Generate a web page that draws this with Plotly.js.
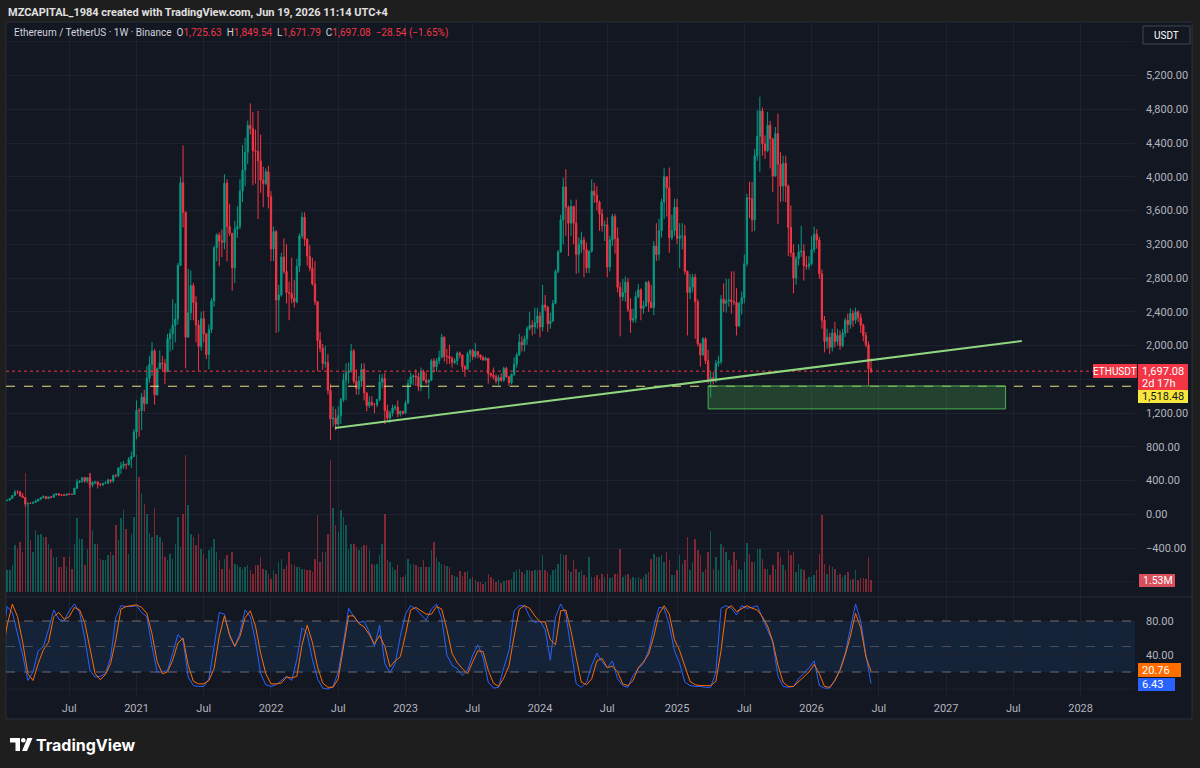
<!DOCTYPE html>
<html><head><meta charset="utf-8">
<script src="https://cdn.plot.ly/plotly-3.0.1.min.js"></script>
<style>html,body{margin:0;padding:0;background:#1e1e1e;}#chart{width:1200px;height:768px;}</style>
</head><body><div id="chart"></div>
<script>
// ---------------- DATA (weekly ETH/USDT, first week starts 2020-01-06) ----------------
const weekStart = '2020-01-06';
const firstOpen = 144;
const closes = [
146,167,168,189,223,266,265,218,200,123,132,131,143,158,182,197,211,187,207,204,231,245,233,228,227,241,239,236,311,385,394,433,395,436,350,381,385,357,353,368,368,409,396,463,461,550,575,596,590,655,685,975,
1232,1230,1390,1314,1614,1780,1935,1417,1727,1793,1786,1690,2082,2140,2240,2315,2950,3930,3580,2100,2390,2710,2510,2245,1990,2320,2140,1895,2190,2530,3160,3310,3240,3225,3925,3410,3330,2920,3380,3410,3830,4080,4290,4610,4570,4310,4300,4190,3960,3920,4060,3765,
3145,3350,2540,2600,3050,2880,2630,2620,2560,2520,2940,3300,3520,3260,3060,2920,2730,2520,2060,1970,1790,1800,1470,1130,1140,1070,1170,1360,1590,1680,1700,1935,1575,1490,1580,1720,1440,1290,1330,1300,1300,1360,1570,1610,1230,1140,1200,1260,1270,1190,1220,1200,
1320,1550,1630,1640,1630,1515,1690,1590,1565,1590,1820,1750,1820,1860,2100,1870,1870,1850,1800,1820,1910,1890,1750,1720,1900,1940,1870,1930,1890,1860,1830,1850,1670,1650,1630,1580,1620,1590,1730,1630,1560,1660,1780,1890,2040,2010,2080,2200,2240,2220,2270,2350,
2220,2480,2455,2260,2290,2500,2880,3110,3490,3880,3640,3450,3650,3450,3080,3200,3250,3140,2920,3120,3830,3780,3700,3560,3420,3430,2930,3250,3530,3270,2690,2580,2630,2750,2430,2300,2320,2580,2660,2440,2470,2750,2510,2450,3180,3080,3360,3700,4000,3870,3280,3360,3640,
3270,3300,3300,2880,2630,2690,2810,2520,2020,1890,2080,1820,1580,1620,1580,1790,1810,2550,2500,2530,2540,2520,2510,2230,2500,2570,2970,3750,3740,3490,4250,4480,4780,4390,4310,4610,4450,4010,4510,4150,3890,4160,3890,3400,3100,2800,3030,3110,3120,2950,2940,2970,
3140,3320,3250,2850,2300,2050,2100,1980,2150,2050,2120,2000,2150,2300,2250,2380,2300,2400,2330,2240,2120,2010,1725.63,1697.08];
const highs = [
150,180,172,190,225,288,287,280,252,202,138,145,149,176,182,200,227,215,212,216,246,253,250,240,246,243,251,244,313,418,400,445,445,440,488,387,396,390,370,374,393,422,417,470,477,560,622,635,600,679,745,1010,
1350,1260,1440,1476,1760,1880,2040,1960,1740,1945,1875,1840,2140,2200,2550,2500,2980,4000,4372,3590,2910,2890,2740,2590,2300,2400,2410,2140,2250,2560,3180,3330,3340,3375,4030,3970,3680,3330,3480,3650,3970,4375,4460,4665,4870,4770,4560,4780,4500,4120,4100,4130,
3830,3410,3370,2720,3100,3270,3200,2760,3040,2780,3030,3330,3580,3580,3270,3190,3040,3000,2520,2160,2020,2000,1900,1550,1280,1250,1280,1380,1670,1790,1800,2020,1960,1720,1640,1790,1790,1440,1400,1400,1320,1370,1660,1660,1680,1300,1230,1300,1300,1350,1230,1230,
1350,1600,1680,1660,1720,1680,1740,1715,1680,1600,1840,1850,1850,1940,2140,2110,1960,2010,1870,1850,1930,1930,1890,1770,1930,1960,1960,2030,1930,1890,1880,1870,1850,1680,1740,1660,1650,1670,1750,1750,1640,1670,1860,1915,2140,2110,2120,2230,2400,2300,2450,2450,
2400,2720,2600,2470,2390,2540,2900,3130,3550,3990,4090,3660,3730,3650,3730,3280,3350,3290,3220,3120,3970,3930,3890,3720,3620,3480,3520,3300,3560,3560,3400,2750,2790,2820,2800,2560,2440,2640,2730,2680,2530,2760,2770,2720,3240,3450,3500,3740,4100,4000,4110,3550,3740,
3740,3450,3450,3430,2890,2850,2850,2850,2550,2030,2100,2100,1950,1690,1690,1830,1880,2600,2740,2790,2790,2880,2880,2680,2520,2640,3080,3800,3940,3940,4330,4790,4950,4820,4490,4770,4660,4460,4590,4750,4290,4250,4250,3910,3660,3200,3060,3200,3420,3200,3060,3060,
3300,3410,3380,3290,2900,2350,2200,2150,2200,2280,2200,2180,2200,2330,2380,2440,2420,2450,2420,2380,2260,2160,2050,1849.54];
const lows = [
141,142,156,166,183,221,241,211,196,90,107,128,124,143,150,168,191,180,180,191,197,223,220,223,218,222,236,229,235,303,370,373,375,373,308,322,357,306,332,334,360,366,370,375,438,440,480,540,535,577,550,680,
890,920,1000,1220,1300,1560,1640,1300,1410,1725,1700,1545,1690,1930,1950,2040,2250,2940,3400,1730,2170,2300,2300,2040,1700,1940,2040,1840,1720,2150,2460,3000,2940,3050,3140,3000,3300,2650,2740,3275,3380,3700,3890,4150,4500,3900,3920,3500,3810,3640,3900,3625,
3000,3000,2150,2160,2580,2850,2500,2300,2500,2450,2500,2870,3270,3180,2950,2880,2710,2480,1700,1920,1710,1740,1420,880,1040,995,1050,1070,1330,1350,1550,1680,1550,1420,1420,1510,1350,1220,1260,1280,1200,1270,1340,1500,1070,1120,1080,1160,1230,1150,1160,1180,
1190,1310,1510,1530,1520,1460,1460,1580,1540,1370,1580,1680,1690,1780,1850,1810,1780,1780,1740,1780,1770,1850,1700,1630,1720,1800,1830,1850,1850,1830,1820,1820,1550,1620,1600,1550,1530,1570,1570,1620,1520,1540,1640,1740,1880,1930,1930,2010,2180,2120,2140,2200,
2100,2170,2410,2160,2200,2280,2490,2860,3100,3200,3300,3060,3300,3200,2850,2860,3100,2810,2860,2860,3100,3690,3600,3360,3350,3240,2810,2880,3180,3090,2630,2110,2530,2520,2400,2150,2270,2270,2560,2300,2380,2460,2400,2440,2360,3000,3010,3280,3500,3530,3100,3250,3300,
3200,2920,3140,2840,2120,2550,2630,2080,1990,1750,1880,1780,1550,1385,1540,1560,1750,1780,2400,2390,2460,2380,2480,2120,2230,2370,2500,2940,3510,3350,3360,4190,4060,4250,4210,4290,4100,3820,4000,3440,3700,3710,3700,3060,3050,2620,2720,2950,3050,2770,2900,2900,
2950,3100,3150,2790,2200,1920,1960,1900,1930,1980,2000,1950,1980,2100,2150,2200,2220,2260,2280,2150,2050,1980,1525,1671.79];
// weekly volume, millions
const volumes = [
3.0,2.8,2.8,2.78,3.42,5.98,5.55,6.4,5.12,15.2, 11.1,6.6,5.12,7.9,7.26,7.47,7.05,7.05,6.19,5.55,
4.48,4.48,3.2,3.2,4.48,3.2,4.48,2.99,6.19,9.4, 6.83,6.83,3.42,5.5,15.2,7.9,6.19,6.19,4.27,4.06,
4.06,4.7,5.12,4.7,8.54,6.6,9.4,10.46,8.1,4.9, 7.47,9.6,17.5,14.7,12.6,11.3,10.0,7.5,7.05,10.7,
7.26,7.05,6.4,4.48,4.06,4.9,4.27,6.19,9.6,5.76, 10.0,17.5,11.1,7.47,7.05,5.98,7.47,5.55,4.9,4.27,
5.34,5.76,6.83,5.12,4.06,2.99,4.27,4.7,2.99,5.12, 3.63,3.42,3.2,2.99,3.2,3.42,2.78,2.35,3.42,3.42,
4.48,2.99,2.78,2.35,1.7,2.78,2.35,3.84,4.27,2.99, 3.42,5.12,3.63,3.42,3.2,3.2,2.99,2.99,2.78,2.78,
2.56,4.2,9.8,3.84,5.12,5.12,7.47,16.9,10.7,8.5, 7.69,10.46,9.6,8.54,5.55,6.19,6.19,5.76,5.34,5.76,
5.98,5.98,5.34,3.63,3.42,3.63,4.7,6.19,10.0,4.06, 3.84,3.2,2.78,3.42,1.92,1.92,2.13,4.27,3.63,3.63,
3.42,3.2,3.2,4.06,3.2,3.2,5.34,6.4,4.48,3.84, 3.63,3.42,3.29,3.2,2.13,2.05,1.92,2.65,2.05,2.56,
2.65,1.71,1.92,1.5,1.28,1.28,1.07,1.28,2.35,1.92, 1.71,1.28,1.5,1.2,1.37,1.5,1.5,1.71,2.56,2.8,
2.99,2.56,2.35,2.78,2.78,2.65,2.78,2.78,2.78,4.7, 2.78,2.56,2.13,2.78,2.99,3.6,4.9,4.7,4.7,2.78,
2.56,4.06,2.99,2.56,2.78,2.13,1.92,4.48,1.92,1.92, 2.13,1.71,2.35,1.92,2.35,1.79,1.92,2.35,2.35,5.55,
1.92,2.13,2.35,1.71,1.92,1.79,1.92,1.71,1.92,2.35, 2.56,4.27,4.9,4.48,4.48,4.7,3.84,5.12,4.06,2.13,
2.13,2.78,4.7,3.63,4.06,7.05,2.78,3.84,6.83,5.34, 4.7,2.56,2.99,5.12,7.77,2.99,4.48,2.78,6.19,5.76,
5.12,4.06,3.42,5.12,4.06,2.99,2.78,3.84,6.32,4.9, 3.84,3.84,5.55,5.55,4.27,2.99,2.99,2.13,3.42,2.99,
5.12,4.48,3.42,2.78,5.34,4.7,5.12,2.56,3.63,2.99, 2.78,1.71,1.92,1.92,2.13,2.78,4.9,9.8,3.63,2.35,
3.42,3.2,2.99,2.13,2.35,1.92,2.13,2.56,1.5,1.71, 2.78,1.5,1.79,1.79,1.71,4.48,1.53];
// Stoch RSI, read every second week
const stochK = [
55,97,90,65,40,10,20,45,50,70, 93,82,80,92,100,90,60,22,14,15, 18,37,84,98,97,97,98,90,85,50,
20,20,22,42,64,58,14,4,3,3, 12,50,90,88,62,50,66,93,85,56, 18,5,3,5,10,15,10,35,72,65,
35,12,1,0,3,20,54,95,85,78, 80,67,50,75,30,19,30,62,88,98, 94,88,81,94,100,83,40,28,24,16,
22,40,52,37,8,1,2,25,45,92, 98,98,85,78,80,70,34,85,100,88, 47,6,2,8,28,42,32,25,33,12,
4,2,16,24,30,45,73,96,95,75, 45,30,8,4,3,3,2,2,20,95, 98,95,87,98,95,96,98,84,70,55,
15,3,2,3,12,18,25,33,4,1, 1,10,23,42,70,100,80,40,6.43];
const stochD = [
40,75,100,85,55,18,10,30,46,55, 85,90,82,85,96,93,78,46,18,11, 17,30,58,94,97,98,99,96,89,65,
32,18,20,34,54,60,28,9,6,6, 10,24,62,86,64,50,62,84,92,74, 42,18,6,6,7,14,13,15,52,75,
55,26,7,2,2,12,50,86,86,77, 73,64,53,63,50,26,33,38,64,93, 96,92,88,88,97,94,70,42,31,24,
18,32,45,44,22,7,3,13,27,62, 94,98,95,86,79,79,58,52,92,93, 68,37,8,5,12,33,36,25,27,20,
6,4,10,25,32,41,62,88,98,88, 58,45,27,9,5,4,4,4,9,45, 94,98,91,95,98,95,93,85,74,56,
28,8,3,3,9,15,20,29,18,3, 2,10,22,40,62,89,72,38,20.76];
const timeTickVals = ['2020-07-06','2021-01-04','2021-07-05','2022-01-03','2022-07-04','2023-01-02','2023-07-03','2024-01-01','2024-07-01','2025-01-06','2025-07-07','2026-01-05','2026-07-06','2027-01-04','2027-07-05','2028-01-03'];
const timeTickText = ['Jul','2021','Jul','2022','Jul','2023','Jul','2024','Jul','2025','Jul','2026','Jul','2027','Jul','2028'];
const priceTickVals = [-400,0,400,800,1200,2000,2400,2800,3200,3600,4000,4400,4800,5200];
const hiddenGridVals = [-800,1600,5600];
const stochTickVals = [40,80];
const lastPrice = 1697.08;
const markedLevel = 1518.48;
const trendX = ['2022-06-25','2027-07-28'];
const trendY = [1024, 2055];
const zoneX = ['2025-03-31','2027-06-14'];
const zoneY = [1250, 1522];
const lastK = 6.43, lastD = 20.76, lastVol = '1.53M';

// ---------------- derived ----------------
function addWeeks(d, n){const t=new Date(d+'T00:00:00Z');t.setUTCDate(t.getUTCDate()+7*n);return t.toISOString().slice(0,10);}
const dates = closes.map((_,i)=>addWeeks(weekStart,i));
const opens = closes.map((c,i)=> i===0 ? firstOpen : closes[i-1]);
const UP='#089981', DN='#f23645';
const volColors = closes.map((c,i)=> c>=opens[i] ? 'rgba(8,153,129,0.5)' : 'rgba(242,54,69,0.5)');
const stochDates = stochK.map((_,j)=>addWeeks(weekStart,2*j));

// pixel helpers (plot area x 6..1135, y 22..722)
const PL=6, PW=1129, PB=722, PH=700;
const X=p=>(p-PL)/PW, Y=p=>(PB-p)/PH;

const FONT='Roboto, "Liberation Sans", Arial, sans-serif';
const AX={family:FONT,size:11,color:'#b2b5be'};
const GRID='#1e2230';

const traces = [
 {type:'bar',x:dates,y:volumes,marker:{color:volColors,line:{width:0}},width:4*86400000,xaxis:'x',yaxis:'y',hoverinfo:'skip',showlegend:false},
 {type:'candlestick',x:dates,open:opens,high:highs,low:lows,close:closes,xaxis:'x',yaxis:'y4',
  increasing:{line:{color:UP,width:1},fillcolor:UP},decreasing:{line:{color:DN,width:1},fillcolor:DN},
  whiskerwidth:0,hoverinfo:'skip',showlegend:false},
 {type:'scatter',mode:'lines',x:stochDates,y:stochK,xaxis:'x',yaxis:'y2',line:{color:'#2962ff',width:1},hoverinfo:'skip',showlegend:false},
 {type:'scatter',mode:'lines',x:stochDates,y:stochD,xaxis:'x',yaxis:'y2',line:{color:'#ff6d00',width:1},hoverinfo:'skip',showlegend:false}
];

function txt(text,xp,yp,opt){return Object.assign({xref:'paper',yref:'paper',x:X(xp),y:Y(yp),text:text,showarrow:false,xanchor:'left',yanchor:'middle',font:{family:FONT,size:11,color:'#ffffff'},borderpad:0},opt||{});}
function rectPx(x0,y0,x1,y1,fill,line){return {type:'rect',xref:'paper',yref:'paper',x0:X(x0),x1:X(x1),y0:Y(y1),y1:Y(y0),fillcolor:fill,line:line||{width:0}};}
const fmt=v=>v.toLocaleString('en-US',{minimumFractionDigits:2,maximumFractionDigits:2});
const R='<span style="color:#f23645">';
const annotations=[
 txt('<b>MZCAPITAL_1984 created with TradingView.com, Jun 19, 2026 11:14 UTC+4</b>',7,12,{font:{family:FONT,size:11,color:'#e0e0e0'}}),
 txt('Ethereum / TetherUS · 1W · Binance\u00a0\u00a0O'+R+'1,725.63</span>\u00a0\u00a0H'+R+'1,849.54</span>\u00a0\u00a0L'+R+'1,671.79</span>\u00a0\u00a0C'+R+'1,697.08</span>\u00a0\u00a0'+R+'\u221228.54 (\u22121.65%)</span>',13,33,{font:{family:FONT,size:10,color:'#d1d4dc'}}),
 txt('USDT',1166,35,{xanchor:'center',font:{family:FONT,size:10,color:'#ffffff'}}),
 txt('ETHUSDT',1115,371,{xanchor:'center',font:{family:FONT,size:10,color:'#ffffff'}}),
 txt(fmt(lastPrice),1141,371),
 txt('2d 17h',1141,383.5),
 txt(fmt(markedLevel),1141,396.5,{font:{family:FONT,size:11,color:'#131722'}}),
 txt(lastVol,1142,580.5,{font:{family:FONT,size:10.5,color:'#ffffff'}}),
 txt(fmt(lastD),1141,670),
 txt(fmt(lastK),1141,684.5),
 txt('<b>TradingView</b>',35,745,{font:{family:'Inter, Roboto, sans-serif',size:16,color:'#ffffff'}})
];

function pPath(pts){return 'M'+pts.map(p=>X(p[0])+','+Y(p[1])).join(' L')+' Z';}
const shapes=[
 Object.assign(rectPx(6,22,1192,719,'#131722',{color:'#2a2e39',width:1}),{layer:'below'}),
 {type:'line',xref:'paper',yref:'paper',x0:X(6),x1:X(1192),y0:Y(597),y1:Y(597),line:{color:'#2a2e39',width:1},layer:'below'},
 {type:'rect',xref:'paper',yref:'y2',x0:0,x1:1,y0:20,y1:80,fillcolor:'rgba(33,150,243,0.10)',line:{width:0},layer:'below'},
 {type:'line',xref:'paper',yref:'y2',x0:0,x1:1,y0:0,y1:0,line:{color:GRID,width:1},layer:'below'},
 {type:'line',xref:'paper',yref:'y2',x0:0,x1:1,y0:80,y1:80,line:{color:'#6a6d78',width:1,dash:'dash'}},
 {type:'line',xref:'paper',yref:'y2',x0:0,x1:1,y0:50,y1:50,line:{color:'#4a4d58',width:1,dash:'dash'}},
 {type:'line',xref:'paper',yref:'y2',x0:0,x1:1,y0:20,y1:20,line:{color:'#6a6d78',width:1,dash:'dash'}}
];
hiddenGridVals.forEach(v=>shapes.push({type:'line',xref:'paper',yref:'y4',x0:0,x1:1,y0:v,y1:v,line:{color:GRID,width:1},layer:'below'}));
shapes.push(
 {type:'line',xref:'paper',yref:'y4',x0:0,x1:1,y0:lastPrice,y1:lastPrice,line:{color:'#f23645',width:1,dash:'dot'}},
 {type:'line',xref:'paper',yref:'y4',x0:0,x1:1,y0:markedLevel,y1:markedLevel,line:{color:'#e8e07a',width:1,dash:'dash'}},
 {type:'rect',xref:'x',yref:'y4',x0:zoneX[0],x1:zoneX[1],y0:zoneY[0],y1:zoneY[1],fillcolor:'rgba(76,175,80,0.28)',line:{color:'#4caf50',width:1}},
 {type:'line',xref:'x',yref:'y4',x0:trendX[0],x1:trendX[1],y0:trendY[0],y1:trendY[1],line:{color:'#8fd67f',width:2}},
 // label boxes
 rectPx(1143,26,1190,44,'#131722',{color:'#434651',width:1}),
 rectPx(1093,364,1137,378,'#f23645'),
 rectPx(1138,364,1188,390,'#f23645'),
 rectPx(1138,390,1188,403,'#f7e63c'),
 rectPx(1139,574,1175,587,'#d8505c'),
 rectPx(1138,663,1181,677,'#ff6d00'),
 rectPx(1138,678,1175,691,'#2962ff'),
 // TradingView logo
 {type:'path',xref:'paper',yref:'paper',path:pPath([[10,738],[20,738],[20,751],[15.5,751],[15.5,742.5],[10,742.5]]),fillcolor:'#ffffff',line:{width:0}},
 {type:'circle',xref:'paper',yref:'paper',x0:X(21),x1:X(25.5),y0:Y(738),y1:Y(742.5),fillcolor:'#ffffff',line:{width:0}},
 {type:'path',xref:'paper',yref:'paper',path:pPath([[22,751],[27.5,738],[32.5,738],[27,751]]),fillcolor:'#ffffff',line:{width:0}}
);

const layout={
 width:1200,height:768,margin:{l:PL,r:1200-PL-PW,t:22,b:46},
 paper_bgcolor:'#1e1e1e',plot_bgcolor:'rgba(0,0,0,0)',showlegend:false,dragmode:false,
 bargap:0,
 xaxis:{type:'date',range:['2020-01-16 20:00','2028-05-29 07:30'],anchor:'y2',rangeslider:{visible:false},tickmode:'array',tickvals:timeTickVals,ticktext:timeTickText,
   showgrid:true,gridcolor:GRID,gridwidth:1,zeroline:false,showline:false,ticks:'',tickfont:AX,ticklabelstandoff:3,fixedrange:true},
 yaxis:{domain:[Y(596),Y(22)],range:[-0.511,72.81],visible:false,showgrid:false,zeroline:false,fixedrange:true},
 yaxis4:{overlaying:'y',side:'right',range:[-966.8,5834.1],tickmode:'array',tickvals:priceTickVals,tickformat:',.2f',
   showgrid:true,gridcolor:GRID,zeroline:false,showline:false,ticks:'',tickfont:AX,ticklabelstandoff:10,fixedrange:true},
 yaxis2:{domain:[Y(697),Y(598)],range:[-9.41,107.06],side:'right',tickmode:'array',tickvals:stochTickVals,tickformat:'.2f',
   showgrid:true,gridcolor:GRID,zeroline:false,showline:false,ticks:'',tickfont:AX,ticklabelstandoff:10,fixedrange:true,anchor:'x'},
 shapes:shapes,annotations:annotations
};
Plotly.newPlot('chart',traces,layout,{staticPlot:true,displayModeBar:false});
</script></body></html>
